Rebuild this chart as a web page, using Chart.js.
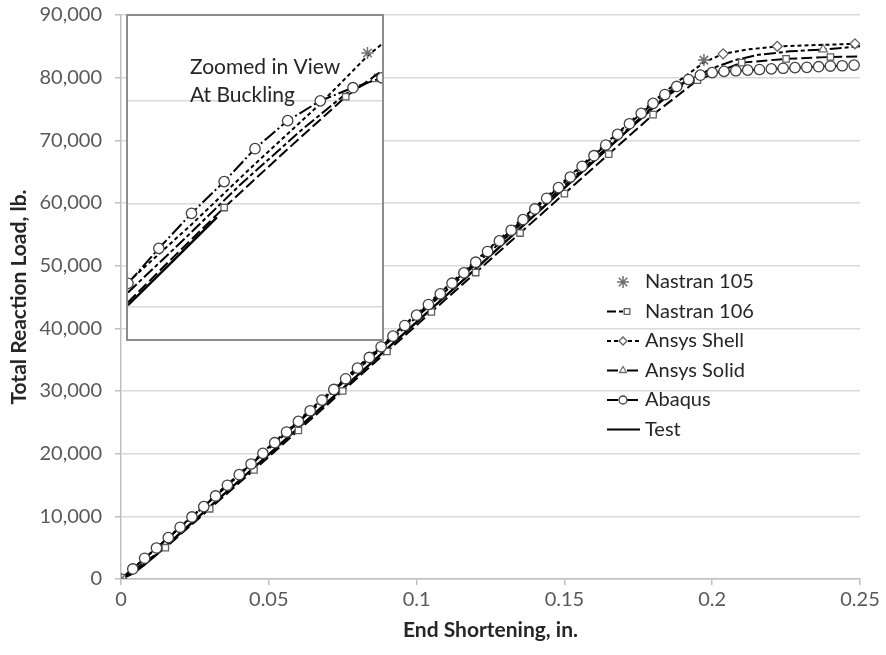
<!DOCTYPE html>
<html><head><meta charset="utf-8">
<script src="https://cdn.jsdelivr.net/npm/chart.js@4.4.0/dist/chart.umd.min.js"></script>
<style>
html,body{margin:0;padding:0;background:#fff;}
#wrap{position:relative;width:886px;height:655px;overflow:hidden;}
#main{position:absolute;left:0;top:0;}
#insetBox{position:absolute;left:126px;top:14px;width:254px;height:323px;border:2px solid #8c8c8c;background:#fff;}
#inset{display:block;}
</style></head><body>
<div id="wrap">
<canvas id="main" width="886" height="655"></canvas>
<div id="insetBox"><canvas id="inset" width="254" height="323"></canvas></div>
</div>
<script>
// ---------- main chart data ----------
const xTicks = [0, 0.05, 0.1, 0.15, 0.2, 0.25];
const xTickLabels = ['0', '0.05', '0.1', '0.15', '0.2', '0.25'];
const yTicks = [0, 10000, 20000, 30000, 40000, 50000, 60000, 70000, 80000, 90000];
const yTickLabels = ['0', '10,000', '20,000', '30,000', '40,000', '50,000', '60,000', '70,000', '80,000', '90,000'];

const seriesNames = ['Nastran 105', 'Nastran 106', 'Ansys Shell', 'Ansys Solid', 'Abaqus', 'Test'];

const nastran105X = [0, 0.1972];
const nastran105Y = [0, 82800];

const nastran106X = [0, 0.015, 0.03, 0.045, 0.06, 0.075, 0.09, 0.105, 0.12, 0.135, 0.15, 0.165, 0.18, 0.195, 0.21, 0.225, 0.24, 0.25];
const nastran106Y = [0, 5000, 11200, 17400, 23700, 30000, 36300, 42600, 48900, 55200, 61500, 67800, 74100, 79600, 82400, 83000, 83300, 83400];

const ansysShellX = [0, 0.02, 0.04, 0.06, 0.08, 0.1, 0.12, 0.14, 0.16, 0.18, 0.189, 0.1975, 0.2037, 0.212, 0.222, 0.235, 0.2483];
const ansysShellY = [0, 8300, 16800, 25300, 33800, 42300, 50800, 59300, 67800, 76200, 79600, 82500, 83800, 84500, 85000, 85200, 85400];

const ansysSolidX = [0, 0.02, 0.04, 0.06, 0.08, 0.1, 0.12, 0.14, 0.16, 0.18, 0.19, 0.2, 0.2077, 0.215, 0.2263, 0.2375, 0.25];
const ansysSolidY = [0, 8200, 16600, 25000, 33400, 41800, 50200, 58600, 67000, 75400, 79000, 81500, 82800, 83600, 84200, 84500, 85000];

const abaqusX = [0, 0.004, 0.008, 0.012, 0.016, 0.02, 0.024, 0.028, 0.032, 0.036, 0.04, 0.044, 0.048, 0.052, 0.056, 0.06,
  0.064, 0.068, 0.072, 0.076, 0.08, 0.084, 0.088, 0.092, 0.096, 0.1, 0.104, 0.108, 0.112, 0.116, 0.12, 0.124,
  0.128, 0.132, 0.136, 0.14, 0.144, 0.148, 0.152, 0.156, 0.16, 0.164, 0.168, 0.172, 0.176, 0.18, 0.184, 0.188,
  0.192, 0.196, 0.2, 0.204, 0.208, 0.212, 0.216, 0.22, 0.224, 0.228, 0.232, 0.236, 0.24, 0.244, 0.248];
const abaqusY = [0, 1600, 3300, 4950, 6600, 8250, 9900, 11550, 13250, 14950, 16650, 18350, 20050, 21750, 23450, 25150,
  26850, 28550, 30250, 31950, 33650, 35350, 37050, 38750, 40450, 42100, 43800, 45500, 47200, 48850, 50550, 52250,
  53950, 55650, 57350, 59050, 60750, 62450, 64150, 65850, 67550, 69250, 70950, 72650, 74300, 75900, 77300, 78600,
  79700, 80400, 80800, 81000, 81100, 81200, 81300, 81400, 81500, 81600, 81650, 81750, 81850, 81900, 82000];

const testX = [0, 0.004, 0.008, 0.012, 0.016, 0.02, 0.03, 0.04, 0.05, 0.06, 0.08, 0.1, 0.12, 0.14, 0.16, 0.17, 0.18, 0.186, 0.19];
const testY = [0, 900, 2300, 3900, 5600, 7300, 11500, 15700, 19900, 24100, 32500, 41000, 49500, 58100, 66700, 71000, 75200, 77500, 78800];

// ---------- inset ("Zoomed in View At Buckling") data ----------
const insetXRange = [0.186, 0.2];
const insetYRange = [74220, 82060];
const insetYTicks = [75000, 77500, 80000];
const insetText = ['Zoomed in View', 'At Buckling'];

const insetTestX = [0.186, 0.1884, 0.1909];
const insetTestY = [75040, 76080, 77170];
const insetN106X = [0.186, 0.1886, 0.1913, 0.1947, 0.1980, 0.2];
const insetN106Y = [75110, 76250, 77410, 78790, 80100, 80730];
const insetSolidX = [0.186, 0.1889, 0.1922, 0.1955, 0.1980, 0.1996, 0.2];
const insetSolidY = [75350, 76560, 77970, 79270, 80170, 80530, 80600];
const insetShellX = [0.186, 0.1895, 0.1930, 0.1966, 0.1992, 0.2];
const insetShellY = [75600, 77000, 78470, 79930, 81090, 81380];
const insetN105X = [0.1992];
const insetN105Y = [81160];
const insetAbaqusX = [0.186, 0.1877, 0.1895, 0.1913, 0.1930, 0.1948, 0.1966, 0.1984, 0.2];
const insetAbaqusY = [75570, 76420, 77270, 78040, 78840, 79520, 80000, 80320, 80560];

// ---------- styling ----------
const FONT = 'Lato, "Open Sans", sans-serif';
const pts = (xs, ys) => xs.map((x, i) => ({x: x, y: ys[i]}));
const STY = {
  'Nastran 105': {showLine: false, borderDash: [], pointStyle: 'star', radius: 6, pc: '#707070', bw: 0, pbw: 1.5},
  'Nastran 106': {showLine: true, borderDash: [11, 4], pointStyle: 'rect', radius: 4.5, pc: '#606060', bw: 2, pbw: 1.3},
  'Ansys Shell': {showLine: true, borderDash: [4, 3], pointStyle: 'rectRot', radius: 5, pc: '#606060', bw: 2, pbw: 1.3},
  'Ansys Solid': {showLine: true, borderDash: [12, 3, 4, 3], pointStyle: 'triangle', radius: 5, pc: '#707070', bw: 2, pbw: 1.3},
  'Abaqus': {showLine: true, borderDash: [14, 3, 2, 3], pointStyle: 'circle', radius: 5.2, pc: '#404040', bw: 2, pbw: 1.3},
  'Test': {showLine: true, borderDash: [], pointStyle: 'circle', radius: 0, pc: '#000', bw: 2.4, pbw: 0}
};
function ds(name, xs, ys, radii, order) {
  const s = STY[name];
  return {
    label: name, data: pts(xs, ys), showLine: s.showLine, borderColor: '#000', borderWidth: s.bw,
    borderDash: s.borderDash, tension: 0, pointStyle: s.pointStyle,
    pointRadius: radii, pointBackgroundColor: '#fff', pointBorderColor: s.pc, pointBorderWidth: s.pbw,
    pointHoverRadius: radii, order: order
  };
}
const markAt = (xs, idx, r) => xs.map((_, i) => idx.includes(i) ? r : 0);

const mainDatasets = [
  ds('Nastran 105', nastran105X, nastran105Y, 6, 0),
  ds('Nastran 106', nastran106X, nastran106Y, nastran106X.map((x, i) => i === nastran106X.length - 1 ? 0 : 4.5), 3),
  ds('Ansys Shell', ansysShellX, ansysShellY, markAt(ansysShellX, [0, 12, 14, 16], 5), 2),
  ds('Ansys Solid', ansysSolidX, ansysSolidY, markAt(ansysSolidX, [0, 15], 5), 4),
  ds('Abaqus', abaqusX, abaqusY, 5.2, 1),
  ds('Test', testX, testY, 0, 5)
];

// custom legend drawn inside the plot area
const legendPlugin = {
  id: 'seriesLegend',
  afterDraw(chart) {
    const ctx = chart.ctx, ca = chart.chartArea;
    const x0 = ca.left + 486, x1 = ca.left + 519, xm = ca.left + 502, xt = ca.left + 524;
    const y0 = 282, dy = 29.5;
    ctx.save();
    seriesNames.forEach((name, i) => {
      const s = STY[name];
      const y = y0 + i * dy;
      if (s.showLine) {
        ctx.beginPath();
        ctx.setLineDash(name === 'Test' ? [] : (name === 'Ansys Shell' ? [4, 3] : (name === 'Nastran 106' ? [9, 3] : [11, 3, 3, 3])));
        ctx.strokeStyle = '#000'; ctx.lineWidth = 2.2;
        ctx.moveTo(x0, y); ctx.lineTo(name === 'Nastran 106' ? xm : x1, y);
        ctx.stroke();
        ctx.setLineDash([]);
      }
      if (s.radius > 0 && name !== 'Test') {
        ctx.fillStyle = '#fff'; ctx.strokeStyle = s.pc; ctx.lineWidth = s.pbw;
        const r = name === 'Nastran 105' ? 6 : 4;
        Chart.helpers.drawPoint(ctx, {pointStyle: s.pointStyle, radius: r, rotation: 0, borderWidth: name === 'Nastran 105' ? 1.5 : 1.2}, xm + (name === 'Nastran 106' ? 4 : 0), y);
      }
      ctx.fillStyle = '#262626';
      ctx.font = '20px ' + FONT;
      ctx.textBaseline = 'middle'; ctx.textAlign = 'left';
      ctx.fillText(name, xt, y);
    });
    ctx.restore();
  }
};

new Chart(document.getElementById('main'), {
  type: 'scatter',
  data: {datasets: mainDatasets},
  options: {
    responsive: false, animation: false, events: [],
    layout: {autoPadding: false, padding: {left: 0, right: 26, top: 15, bottom: 0}},
    plugins: {legend: {display: false}, tooltip: {enabled: false}},
    scales: {
      x: {
        type: 'linear', min: 0, max: 0.25,
        afterBuildTicks: s => { s.ticks = xTicks.map(v => ({value: v})); },
        afterFit: s => { s.height = 76; s.paddingLeft = 0; s.paddingRight = 0; },
        ticks: {callback: (v, i) => xTickLabels[i], font: {family: FONT, size: 20}, color: '#595959', padding: 3, maxRotation: 0, autoSkip: false},
        grid: {drawOnChartArea: false, drawTicks: true, tickLength: 6, color: '#bfbfbf', lineWidth: 1.5},
        border: {color: '#bfbfbf', width: 1.5},
        title: {display: true, text: 'End Shortening, in.', font: {family: FONT, size: 21, weight: 'bold'}, color: '#262626', padding: {top: 0, bottom: 12}}
      },
      y: {
        type: 'linear', min: 0, max: 90000,
        afterBuildTicks: s => { s.ticks = yTicks.map(v => ({value: v})); },
        afterFit: s => { s.width = 121; s.paddingTop = 0; s.paddingBottom = 0; },
        ticks: {callback: (v, i) => yTickLabels[i], font: {family: FONT, size: 20}, color: '#595959', padding: 13, autoSkip: false},
        grid: {color: '#d9d9d9', lineWidth: 1.5, tickLength: 6, tickColor: '#bfbfbf'},
        border: {color: '#bfbfbf', width: 1.5},
        title: {display: true, text: 'Total Reaction Load, lb.', font: {family: FONT, size: 21, weight: 'bold'}, color: '#262626', padding: {top: 7, bottom: 0}}
      }
    }
  },
  plugins: [legendPlugin]
});

// ---------- inset chart ----------
const insetTextPlugin = {
  id: 'insetText',
  beforeDatasetsDraw(chart) {
    const ctx = chart.ctx;
    ctx.save();
    ctx.fillStyle = '#262626';
    ctx.font = '21px ' + FONT;
    ctx.textBaseline = 'middle'; ctx.textAlign = 'left';
    ctx.fillText(insetText[0], 62, 51);
    ctx.fillText(insetText[1], 62, 79);
    ctx.restore();
  }
};
new Chart(document.getElementById('inset'), {
  type: 'scatter',
  data: {datasets: [
    ds('Nastran 105', insetN105X, insetN105Y, 6, 0),
    ds('Nastran 106', insetN106X, insetN106Y, markAt(insetN106X, [2, 4], 4.5), 3),
    ds('Ansys Shell', insetShellX, insetShellY, 0, 2),
    ds('Ansys Solid', insetSolidX, insetSolidY, markAt(insetSolidX, [5], 5), 4),
    ds('Abaqus', insetAbaqusX, insetAbaqusY, 5.2, 1),
    ds('Test', insetTestX, insetTestY, 0, 5)
  ]},
  options: {
    responsive: false, animation: false, events: [],
    layout: {autoPadding: false, padding: 0},
    plugins: {legend: {display: false}, tooltip: {enabled: false}},
    scales: {
      x: {type: 'linear', min: insetXRange[0], max: insetXRange[1], display: false},
      y: {
        type: 'linear', min: insetYRange[0], max: insetYRange[1],
        afterBuildTicks: s => { s.ticks = insetYTicks.map(v => ({value: v})); },
        ticks: {display: false},
        grid: {color: '#d9d9d9', lineWidth: 1.5, drawTicks: false},
        border: {display: false}
      }
    }
  },
  plugins: [insetTextPlugin]
});
</script>
</body></html>
